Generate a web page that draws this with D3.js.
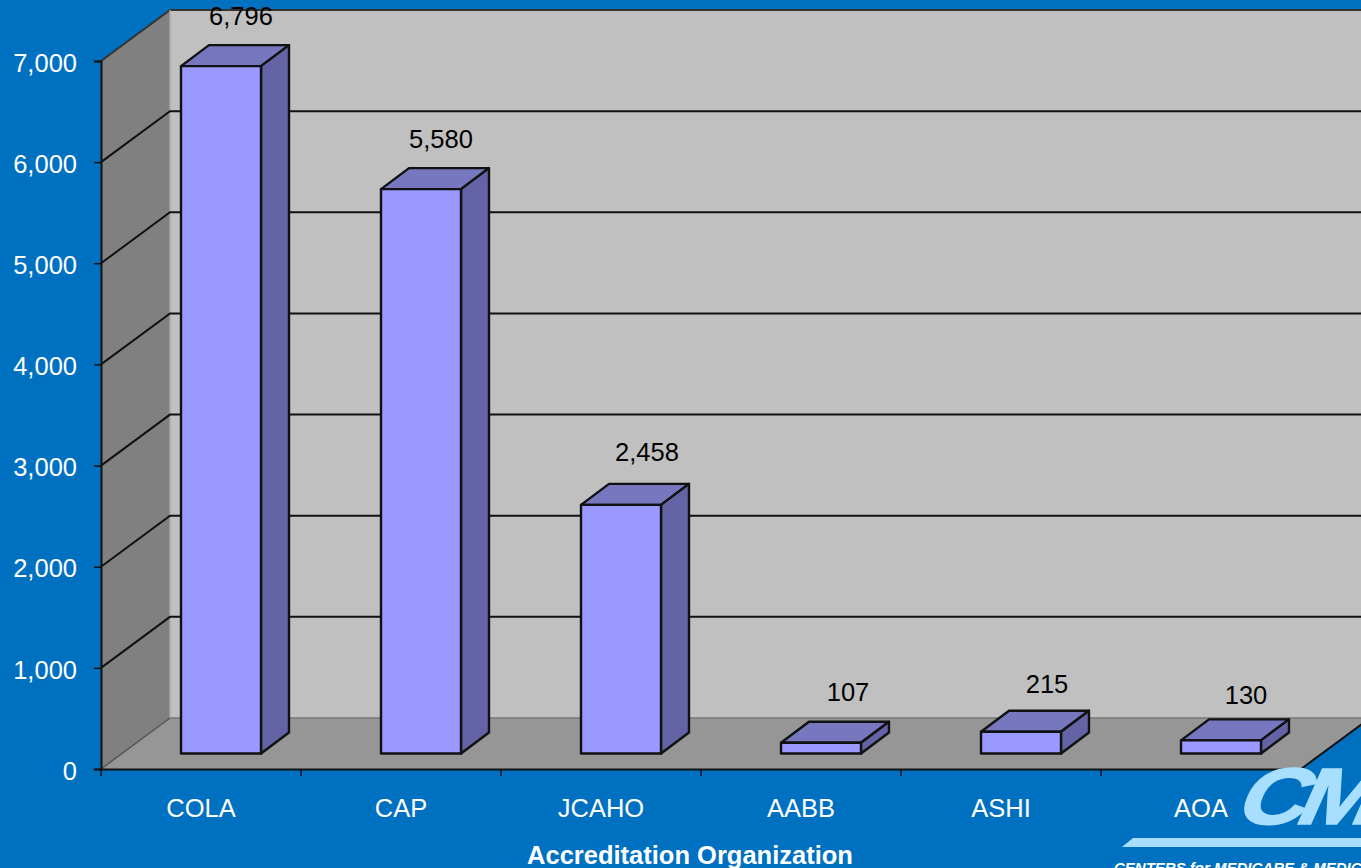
<!DOCTYPE html>
<html>
<head>
<meta charset="utf-8">
<script src="https://cdn.jsdelivr.net/npm/d3@7"></script>
<style>
  html, body { margin: 0; padding: 0; background: #0070c0; overflow: hidden; }
  text { font-family: "Liberation Sans", Arial, sans-serif; }
</style>
</head>
<body>
<svg id="chart" width="1361" height="868"></svg>
<script>
var categories = ['COLA', 'CAP', 'JCAHO', 'AABB', 'ASHI', 'AOA'];
var labs = [6796, 5580, 2458, 107, 215, 130];
var yTicks = [0, 1000, 2000, 3000, 4000, 5000, 6000, 7000];
var axisTitle = 'Accreditation Organization';

// hand placed data labels in the original, offsets from bar top / band centre
var labelLift = [41, 41, 44, 41.5, 38.5, 36.5];
var labelShift = [40, 40, 46, 47, 46, 45];

var svg = d3.select('#chart');
var fmt = d3.format(',');

var x = d3.scaleBand().domain(categories).range([101, 1301]);
var y = d3.scaleLinear().domain([0, 7000]).range([769, 61]);

// depth of the fake 3d box
var depthX = 69, depthY = -51;
var barW = 80, barInX = 20, barInY = -15.5, barDX = 28, barDY = -21;
var yMax = 7000;

function pts(a) {
  return a.map(function (d) { return d.join(','); }).join(' ');
}

// walls
svg.append('polygon')
  .attr('points', pts([[101, y(0)], [101 + depthX, y(0) + depthY], [101 + depthX, y(yMax) + depthY], [101, y(yMax)]]))
  .attr('fill', '#808080');
svg.append('rect')
  .attr('x', 101 + depthX).attr('y', y(yMax) + depthY)
  .attr('width', 1300).attr('height', y(0) - y(yMax))
  .attr('fill', '#c0c0c0');
svg.append('polygon')
  .attr('points', pts([[101, y(0)], [1301, y(0)], [1301 + depthX, y(0) + depthY], [101 + depthX, y(0) + depthY]]))
  .attr('fill', '#969696');

// box edges
svg.append('polyline')
  .attr('points', pts([[101, y(yMax)], [101 + depthX, y(yMax) + depthY], [1400, y(yMax) + depthY]]))
  .attr('fill', 'none').attr('stroke', '#333').attr('stroke-width', 2);
svg.append('line')
  .attr('x1', 170).attr('x2', 170).attr('y1', y(yMax) + depthY).attr('y2', y(0) + depthY)
  .attr('stroke', '#aaa').attr('stroke-width', 1.5);
svg.append('line')
  .attr('x1', 170).attr('x2', 1400).attr('y1', y(0) + depthY).attr('y2', y(0) + depthY)
  .attr('stroke', '#777').attr('stroke-width', 1.5);
svg.append('line')
  .attr('x1', 101).attr('x2', 170).attr('y1', y(0)).attr('y2', y(0) + depthY)
  .attr('stroke', '#555').attr('stroke-width', 1.5);
svg.append('line')
  .attr('x1', 1301).attr('x2', 1301 + depthX).attr('y1', y(0)).attr('y2', y(0) + depthY)
  .attr('stroke', '#111').attr('stroke-width', 2);

// gridlines on left and back walls
var grid = yTicks.filter(function (d) { return d > 0 && d < yMax; });
svg.selectAll('.grid').data(grid).enter().append('polyline')
  .attr('class', 'grid')
  .attr('points', function (d) {
    return pts([[101, y(d)], [101 + depthX, y(d) + depthY], [1400, y(d) + depthY]]);
  })
  .attr('fill', 'none').attr('stroke', '#111').attr('stroke-width', 2);

// bars
var bars = svg.selectAll('.bar').data(labs).enter().append('g').attr('class', 'bar');
function bx(i) { return x(categories[i]) + x.bandwidth() / 2 + barInX - barW / 2; }
var by0 = y(0) + barInY;

bars.append('polygon')
  .attr('points', function (d, i) {
    var l = bx(i), t = by0 - (y(0) - y(d));
    return pts([[l, t], [l + barDX, t + barDY], [l + barW + barDX, t + barDY], [l + barW, t]]);
  })
  .attr('fill', '#7777c0');
bars.append('polygon')
  .attr('points', function (d, i) {
    var r = bx(i) + barW, t = by0 - (y(0) - y(d));
    return pts([[r, t], [r + barDX, t + barDY], [r + barDX, by0 + barDY], [r, by0]]);
  })
  .attr('fill', '#6363a6');
bars.append('rect')
  .attr('x', function (d, i) { return bx(i); })
  .attr('y', function (d) { return by0 - (y(0) - y(d)); })
  .attr('width', barW)
  .attr('height', function (d) { return y(0) - y(d); })
  .attr('fill', '#9999ff');
bars.selectAll('polygon, rect')
  .attr('stroke', '#111').attr('stroke-width', 2.4).attr('stroke-linejoin', 'round');

// data labels
svg.selectAll('.lab').data(labs).enter().append('text')
  .attr('class', 'lab')
  .attr('x', function (d, i) { return x(categories[i]) + x.bandwidth() / 2 + labelShift[i]; })
  .attr('y', function (d, i) { return by0 - (y(0) - y(d)) - labelLift[i]; })
  .attr('text-anchor', 'middle')
  .attr('font-size', 25.5)
  .attr('fill', '#000')
  .text(function (d) { return fmt(d); });

// axes
var yAxis = d3.axisLeft(y).tickValues(yTicks).tickSize(7).tickPadding(17).tickFormat(fmt);
var gy = svg.append('g').attr('transform', 'translate(101,0)').call(yAxis);
var xAxis = d3.axisBottom(x).tickSize(0).tickPadding(30);
var gx = svg.append('g').attr('transform', 'translate(0,769)').call(xAxis);

gx.selectAll('.tick-edge')
  .data(d3.range(categories.length + 1)).enter().append('line')
  .attr('x1', function (d) { return 101 + d * x.bandwidth(); })
  .attr('x2', function (d) { return 101 + d * x.bandwidth(); })
  .attr('y1', 0).attr('y2', 7).attr('stroke', '#111').attr('stroke-width', 1.5);

[gx, gy].forEach(function (g) {
  g.select('.domain').attr('stroke', '#111').attr('stroke-width', 2);
  g.selectAll('.tick line').attr('stroke', '#111').attr('stroke-width', 1.5);
  g.selectAll('text').attr('font-size', 25.5).attr('font-family', '"Liberation Sans", Arial, sans-serif').attr('fill', '#fff');
});
gy.selectAll('text').attr('dy', '0.4em');

svg.append('text')
  .attr('x', 690).attr('y', 864)
  .attr('text-anchor', 'middle')
  .attr('font-size', 25.5).attr('font-weight', 'bold')
  .attr('fill', '#fff')
  .text(axisTitle);

// CMS logo, runs off the slide edge in the original
var logoBlue = '#a8dfff';
svg.append('text')
  .attr('transform', 'translate(1232,824) skewX(-24) scale(1.2,1)')
  .attr('font-size', 80).attr('font-weight', 'bold').attr('letter-spacing', -8)
  .attr('fill', logoBlue).attr('stroke', logoBlue).attr('stroke-width', 1.5)
  .text('CMS');
svg.append('polygon')
  .attr('points', pts([[1133, 838], [1361, 838], [1361, 847], [1122, 847]]))
  .attr('fill', logoBlue);
svg.append('text')
  .attr('x', 1114).attr('y', 873)
  .attr('font-size', 15).attr('font-weight', 'bold').attr('font-style', 'italic')
  .attr('fill', '#fff').text('CENTERS for MEDICARE & MEDICAID SERVICES');
</script>
</body>
</html>
